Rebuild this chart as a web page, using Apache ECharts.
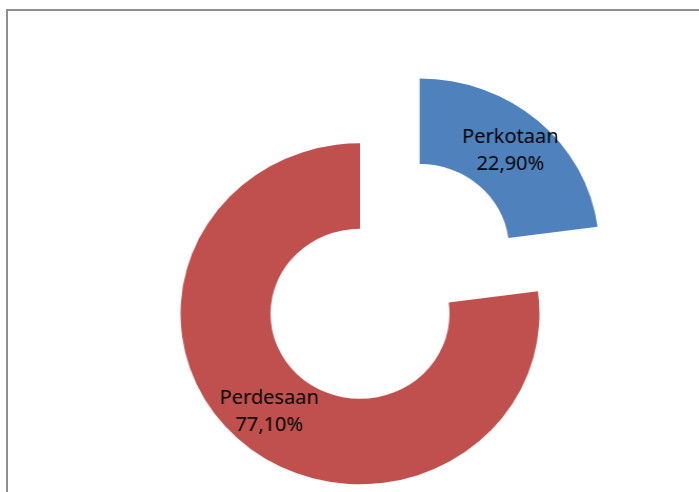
<!DOCTYPE html>
<html>
<head>
<meta charset="utf-8">
<script src="https://cdn.jsdelivr.net/npm/echarts@6/dist/echarts.min.js"></script>
<style>
  html, body { margin: 0; padding: 0; background: #ffffff; overflow: hidden; }
  #wrap { position: relative; width: 699px; height: 492px; overflow: hidden; background: #fff; }
  #frame { position: absolute; left: 6px; top: 9px; width: 800px; height: 600px;
           border-left: 2px solid #8f8f8f; border-top: 2px solid #8f8f8f; box-sizing: border-box; }
  #chart { position: absolute; left: 0; top: 0; width: 664px; height: 492px;
           transform: scaleX(1.0526); transform-origin: 0 0; }
</style>
</head>
<body>
<div id="wrap">
  <div id="frame"></div>
  <div id="chart"></div>
</div>
<script>
var categories = ['Perkotaan', 'Perdesaan'];
var values = [22.9, 77.1];
var valueLabels = ['22,90%', '77,10%'];
var colors = ['#4F81BD', '#C0504D'];

var data = categories.map(function (name, i) {
  return {
    name: name,
    value: values[i],
    selected: i === 0,
    itemStyle: { color: colors[i] }
  };
});

var chart = echarts.init(document.getElementById('chart'), null, { renderer: 'canvas' });
chart.setOption({
  animation: false,
  series: [{
    type: 'pie',
    center: [342, 313.8],
    radius: [85, 170.5],
    startAngle: 90,
    clockwise: true,
    selectedMode: 'single',
    selectedOffset: 86,
    avoidLabelOverlap: false,
    emphasis: { disabled: true },
    select: { itemStyle: { borderWidth: 0 } },
    itemStyle: { borderWidth: 0 },
    label: {
      show: true,
      position: 'inside',
      color: '#000',
      fontFamily: 'Noto Sans',
      fontSize: 19,
      lineHeight: 27,
      formatter: function (p) { return p.name + '\n' + valueLabels[p.dataIndex]; }
    },
    labelLine: { show: false },
    data: data
  }]
});
</script>
</body>
</html>
